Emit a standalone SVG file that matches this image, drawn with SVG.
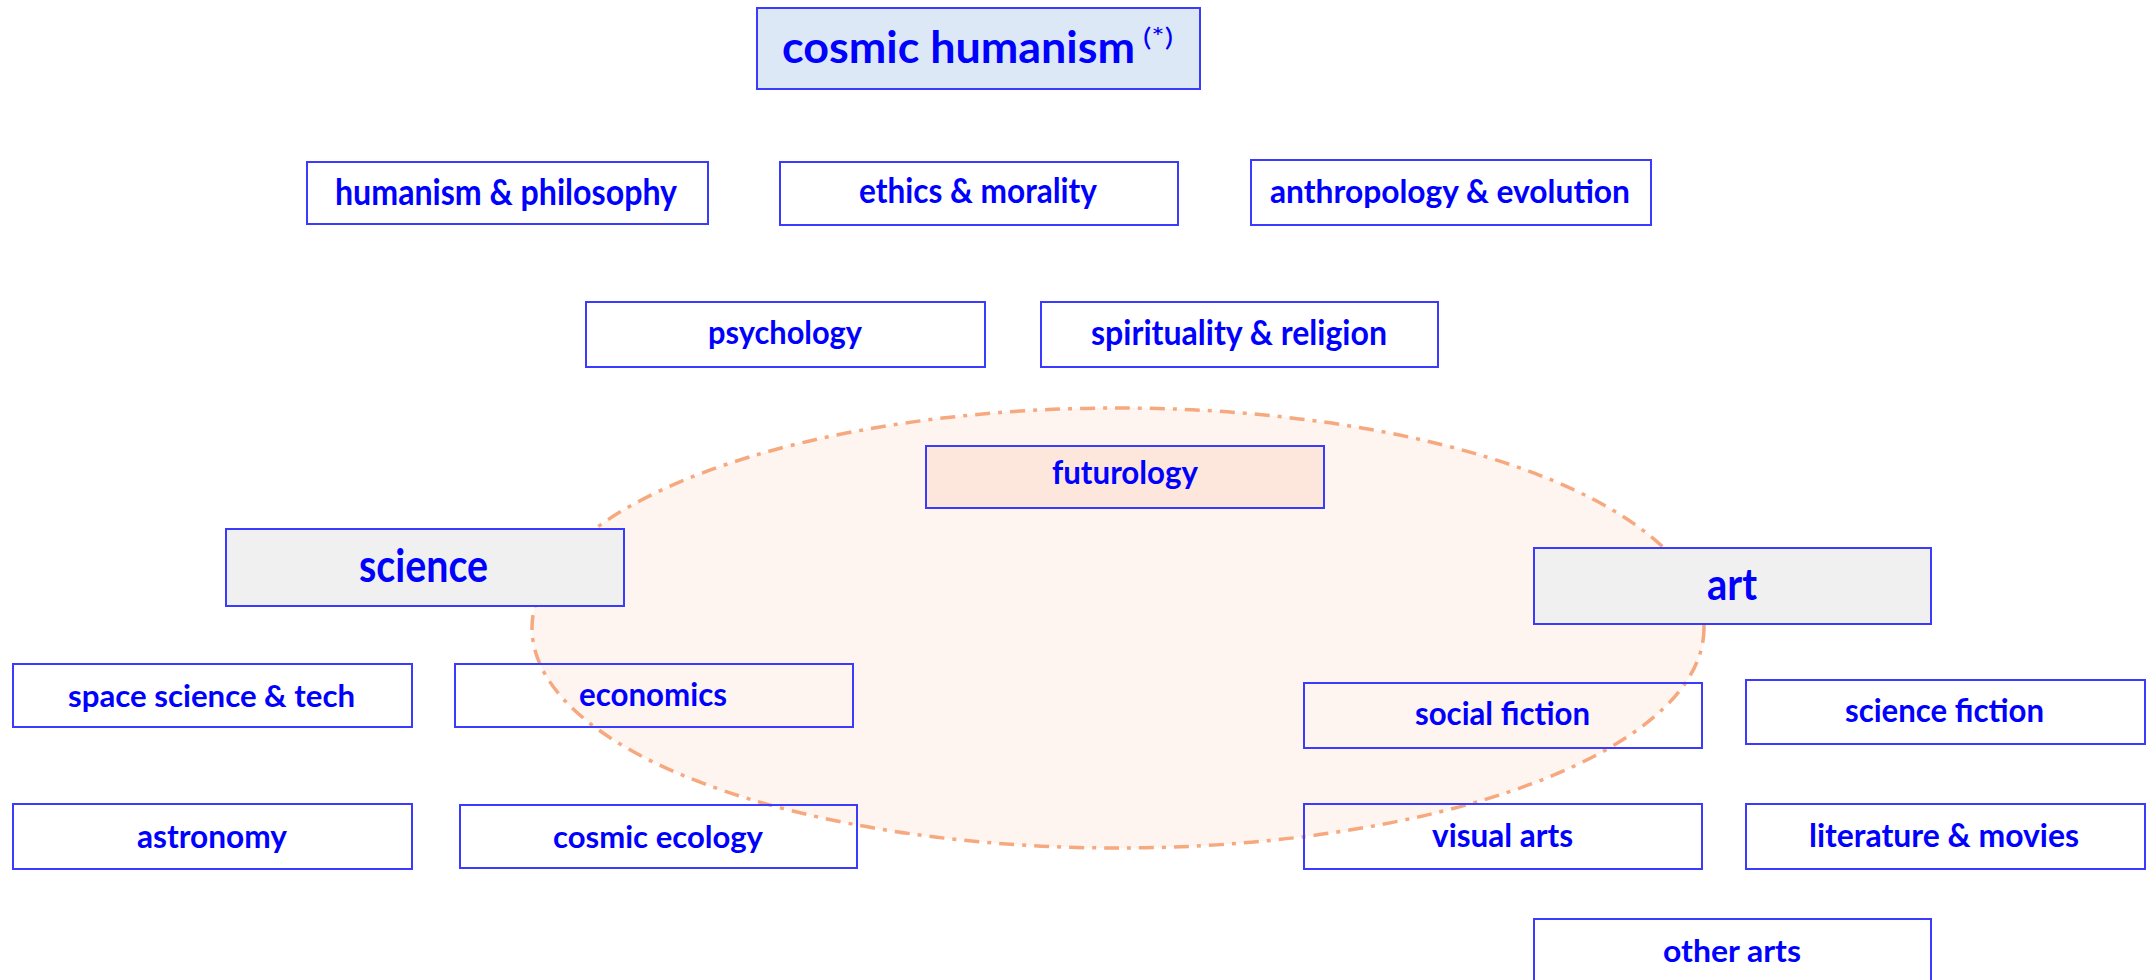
<svg xmlns="http://www.w3.org/2000/svg" width="2151" height="980" viewBox="0 0 2151 980">
<style>
.bx{fill:none;stroke:#3b3bff;stroke-width:2}
.blue{fill:#dde8f6}
.grey{fill:#f0f0f0}
.peach{fill:#fde6dc}
.t{font-family:Lato,"Open Sans","Liberation Sans",sans-serif;font-weight:700;fill:#0000ff}
.sup{font-weight:400}
.zone{fill:#fef4f0;stroke:#f6a97f;stroke-width:3.5;stroke-dasharray:15 8 4 8}
</style>
<rect x="0" y="0" width="2151" height="980" fill="#ffffff"/>
<g id="futures-zone">
<ellipse class="zone" cx="1118" cy="628" rx="586" ry="220"/>
</g>
<g id="connectors"></g>
<g id="cosmic-humanism">
<rect class="bx blue" x="757" y="8" width="443" height="81"/>
<text class="t" x="782" y="63" font-size="44.5" textLength="353" lengthAdjust="spacingAndGlyphs">cosmic humanism</text>
<text class="t sup" x="1143" y="46" font-size="25" textLength="30" lengthAdjust="spacingAndGlyphs">(*)</text>
</g>
<g id="humanism-philosophy">
<rect class="bx" x="307" y="162" width="401" height="62"/>
<text class="t" x="335" y="205" font-size="36" textLength="342" lengthAdjust="spacingAndGlyphs">humanism &amp; philosophy</text>
</g>
<g id="ethics-morality">
<rect class="bx" x="780" y="162" width="398" height="63"/>
<text class="t" x="859" y="203" font-size="35" textLength="238" lengthAdjust="spacingAndGlyphs">ethics &amp; morality</text>
</g>
<g id="anthropology-evolution">
<rect class="bx" x="1251" y="160" width="400" height="65"/>
<text class="t" x="1270" y="203" font-size="33" textLength="360" lengthAdjust="spacingAndGlyphs">anthropology &amp; evolution</text>
</g>
<g id="psychology">
<rect class="bx" x="586" y="302" width="399" height="65"/>
<text class="t" x="708" y="344" font-size="32" textLength="154" lengthAdjust="spacingAndGlyphs">psychology</text>
</g>
<g id="spirituality-religion">
<rect class="bx" x="1041" y="302" width="397" height="65"/>
<text class="t" x="1091" y="345" font-size="34" textLength="296" lengthAdjust="spacingAndGlyphs">spirituality &amp; religion</text>
</g>
<g id="futurology">
<rect class="bx peach" x="926" y="446" width="398" height="62"/>
<text class="t" x="1052" y="484" font-size="32" textLength="146" lengthAdjust="spacingAndGlyphs">futurology</text>
</g>
<g id="science">
<rect class="bx grey" x="226" y="529" width="398" height="77"/>
<text class="t" x="359" y="582" font-size="45" textLength="129" lengthAdjust="spacingAndGlyphs">science</text>
</g>
<g id="art">
<rect class="bx grey" x="1534" y="548" width="397" height="76"/>
<text class="t" x="1707" y="600" font-size="44" textLength="50" lengthAdjust="spacingAndGlyphs">art</text>
</g>
<g id="space-science-tech">
<rect class="bx" x="13" y="664" width="399" height="63"/>
<text class="t" x="68" y="707" font-size="31" textLength="287" lengthAdjust="spacingAndGlyphs">space science &amp; tech</text>
</g>
<g id="economics">
<rect class="bx" x="455" y="664" width="398" height="63"/>
<text class="t" x="579" y="706" font-size="33" textLength="148" lengthAdjust="spacingAndGlyphs">economics</text>
</g>
<g id="astronomy">
<rect class="bx" x="13" y="804" width="399" height="65"/>
<text class="t" x="137" y="848" font-size="32" textLength="150" lengthAdjust="spacingAndGlyphs">astronomy</text>
</g>
<g id="cosmic-ecology">
<rect class="bx" x="460" y="805" width="397" height="63"/>
<text class="t" x="553" y="848" font-size="31" textLength="210" lengthAdjust="spacingAndGlyphs">cosmic ecology</text>
</g>
<g id="social-fiction">
<rect class="bx" x="1304" y="683" width="398" height="65"/>
<text class="t" x="1415" y="725" font-size="32" textLength="175" lengthAdjust="spacingAndGlyphs">social fiction</text>
</g>
<g id="science-fiction">
<rect class="bx" x="1746" y="680" width="399" height="64"/>
<text class="t" x="1845" y="722" font-size="32" textLength="199" lengthAdjust="spacingAndGlyphs">science fiction</text>
</g>
<g id="visual-arts">
<rect class="bx" x="1304" y="804" width="398" height="65"/>
<text class="t" x="1432" y="847" font-size="32" textLength="141" lengthAdjust="spacingAndGlyphs">visual arts</text>
</g>
<g id="literature-movies">
<rect class="bx" x="1746" y="804" width="399" height="65"/>
<text class="t" x="1809" y="847" font-size="32" textLength="270" lengthAdjust="spacingAndGlyphs">literature &amp; movies</text>
</g>
<g id="other-arts">
<rect class="bx" x="1534" y="919" width="397" height="80"/>
<text class="t" x="1663" y="962" font-size="31" textLength="138" lengthAdjust="spacingAndGlyphs">other arts</text>
</g>
</svg>
